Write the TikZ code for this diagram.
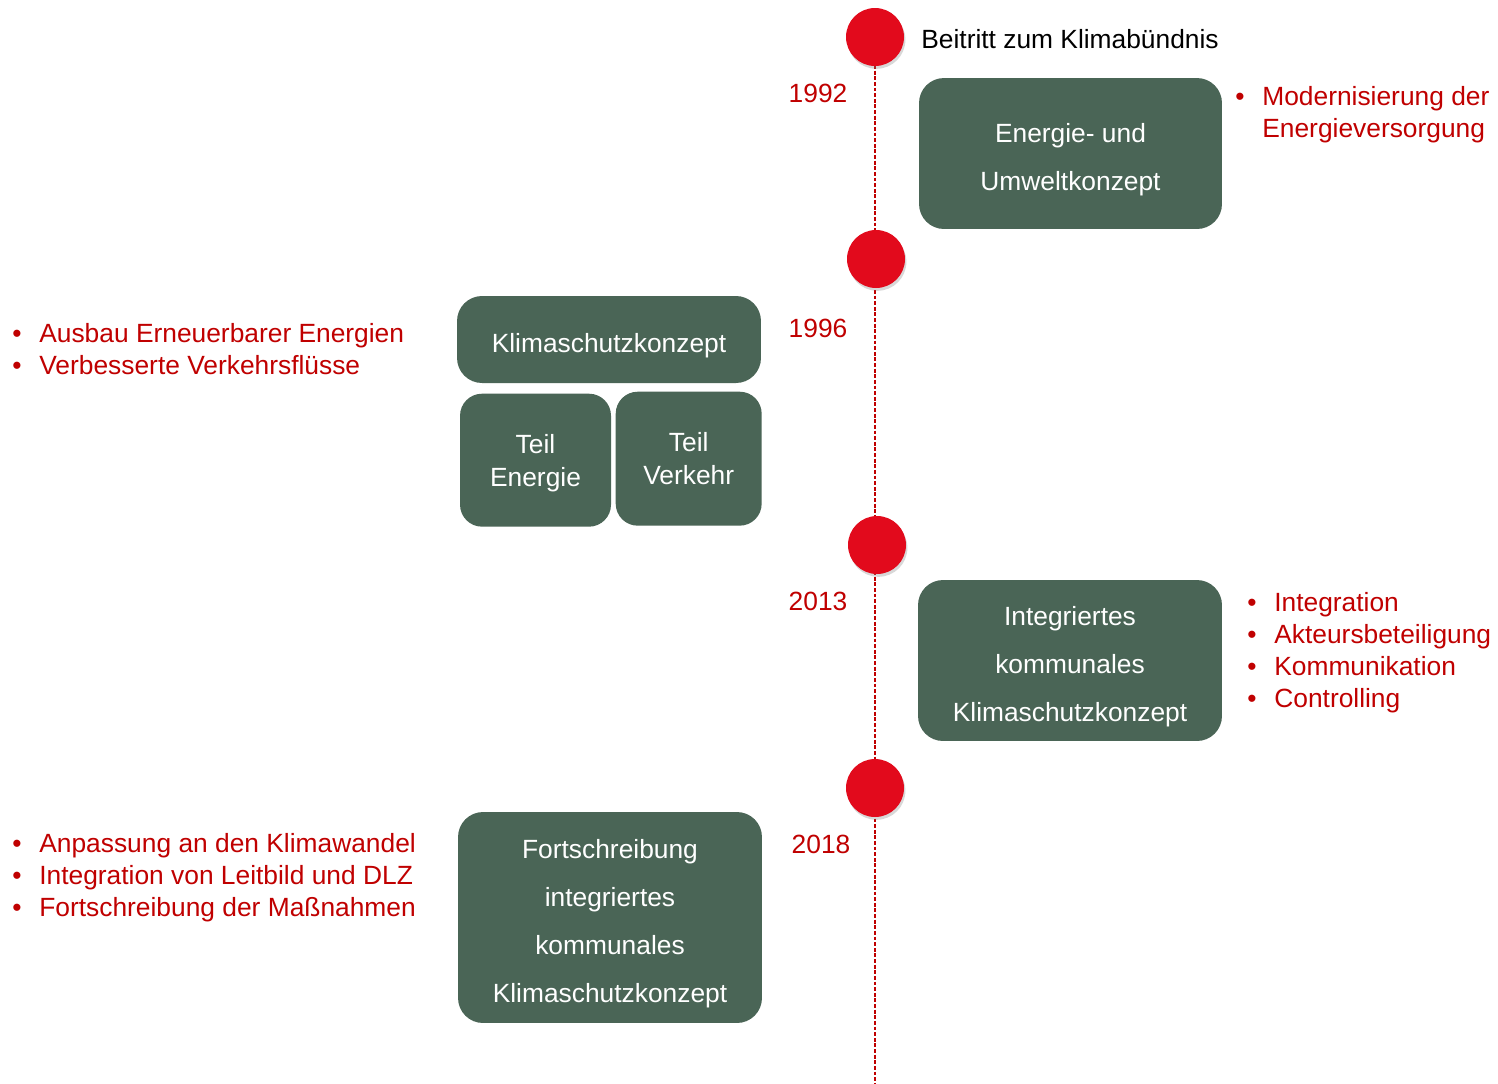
\documentclass[tikz,border=0pt]{standalone}
\usepackage{fontspec}
\setmainfont{Liberation Sans}
\usetikzlibrary{shadows,positioning}
\definecolor{boxgruen}{HTML}{4A6556}
\definecolor{textrot}{HTML}{C00000}
\definecolor{punktrot}{HTML}{E20A1C}
\newcommand{\listpunkt}{\makebox[0.54cm][l]{\textbullet}}
\newcommand{\kopf}[1][17.7pt]{\rule{0pt}{#1}}

\begin{document}
\begin{tikzpicture}[x=0.02cm,y=-0.02cm,
	every node/.style={font=\fontsize{15}{18.2}\selectfont},
	konzept/.style={fill=boxgruen,rounded corners=0.5cm,text=white,align=center,inner sep=0pt,font=\fontsize{15}{27.3}\selectfont},
	jahr/.style={text=textrot},
	kreis/.style={circle,fill=punktrot,minimum size=1.16cm,inner sep=0pt,drop shadow={opacity=0.3,shadow xshift=0.8pt,shadow yshift=-1.6pt}},
	liste/.style={text=textrot,align=left,anchor=west,inner sep=0pt}]
				% Hintergrund
				\fill[white] (0,0) rectangle (1498,1083);
				\useasboundingbox (0,0) rectangle (1498,1083);
				
				% Zeitstrahl
				\coordinate (oben) at (875,37);
				\coordinate (unten) at (875,1083);
				\draw[textrot,line width=0.9pt,dash pattern=on 2.2pt off 1pt] (oben) -- (unten);
				
				% Punkte
				\node[kreis] (k1) at (875,37) {};
				\node[kreis] (k2) at (876,259) {};
				\node[kreis] (k3) at (877,545) {};
				\node[kreis] (k4) at (875,788) {};
				\node[anchor=west,inner sep=0pt] (beitritt) at (921,39) {Beitritt zum Klimabündnis};
				
				% Jahreszahlen
				\node[jahr] (j1992) at (818,93) {1992};
				\node[jahr] (j1996) at (818,328) {1996};
				\node[jahr] (j2013) at (818,601) {2013};
				\node[jahr] (j2018) at (821,844) {2018};
				
				% 1992
				\node[konzept,minimum width=6.06cm,minimum height=3.02cm] (euk) at (1070.5,153.5) {\kopf Energie- und\\Umweltkonzept};
				\node[liste] (l1992) at (1235,115) {\listpunkt Modernisierung der\\\hspace*{0.54cm}Energieversorgung};
				
				% 1996
				\node[konzept,minimum width=6.08cm,minimum height=1.74cm] (ksk) at (609,339.5) {\kopf Klimaschutzkonzept};
				\node[konzept,font=\fontsize{15}{18.8}\selectfont,rounded corners=0.44cm,minimum width=3.02cm,minimum height=2.66cm,below right=0.2cm and 0.06cm of ksk.south west] (tenergie) {\kopf[14.3pt]Teil\\Energie};
				\node[konzept,font=\fontsize{15}{18.8}\selectfont,rounded corners=0.44cm,minimum width=2.92cm,minimum height=2.68cm,right=0.08cm of tenergie,yshift=0.03cm] (tverkehr) {Teil\\Verkehr};
				\node[liste] (l1996) at (12,349) {\listpunkt Ausbau Erneuerbarer Energien\\\listpunkt Verbesserte Verkehrsflüsse};
				
				% 2013
				\node[konzept,minimum width=6.08cm,minimum height=3.22cm] (ikk) at (1070,660.5) {\kopf Integriertes\\kommunales\\Klimaschutzkonzept};
				\node[liste] (l2013) at (1247,653) {\listpunkt Integration\\\listpunkt Akteursbeteiligung\\\listpunkt Kommunikation\\\listpunkt Controlling};
				
				% 2018
				\node[konzept,minimum width=6.08cm,minimum height=4.22cm] (fikk) at (610,917.5) {\kopf Fortschreibung\\integriertes\\kommunales\\Klimaschutzkonzept};
				\node[liste] (l2018) at (12,878) {\listpunkt Anpassung an den Klimawandel\\\listpunkt Integration von Leitbild und DLZ\\\listpunkt Fortschreibung der Maßnahmen};
			\end{tikzpicture}
\end{document}
